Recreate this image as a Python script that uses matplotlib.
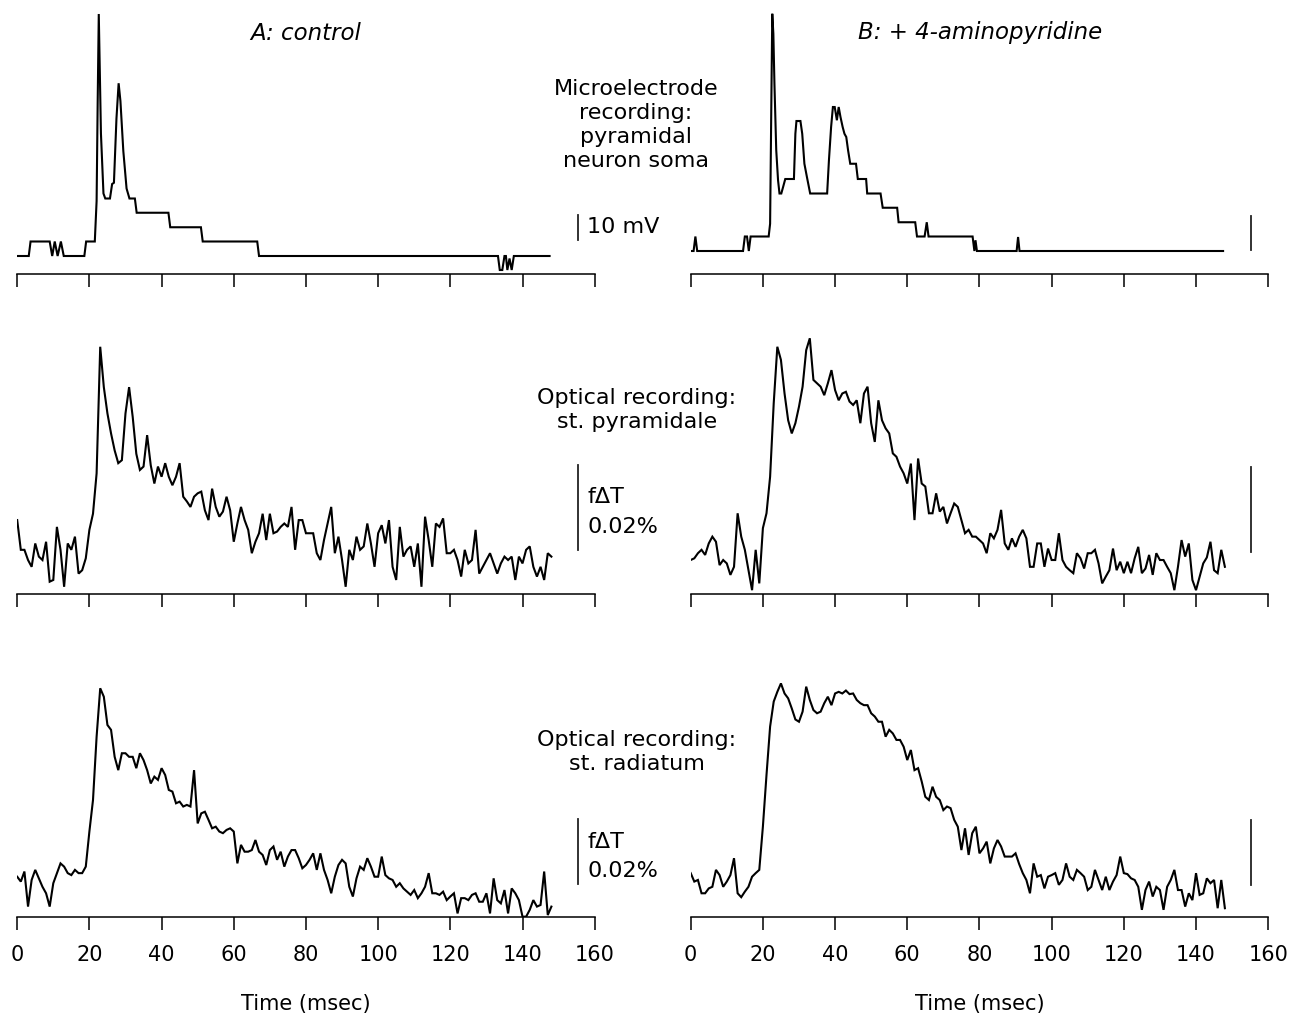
import matplotlib
matplotlib.use("Agg")
import matplotlib.pyplot as plt
import numpy as np

plt.rcParams['font.family'] = ['DejaVu Sans']

# ---- microelectrode recordings (mV above resting level), breakpoints ----
ctrl_me_t = [0, 3.2, 3.7, 9.0, 9.7, 10.4, 11.2, 12.1, 12.9,
             18.6, 19.1, 21.5, 22.0, 22.3, 22.6, 23.2, 23.9, 24.4,
             25.7, 26.3, 26.8, 27.5, 28.1, 28.6, 29.4, 30.3, 31.1,
             32.6, 33.1, 41.9, 42.4, 50.9, 51.4, 66.5, 67.0,
             133.2, 133.7, 134.4, 135.0, 135.4, 135.8, 136.4, 137.0, 137.6, 147.5]
ctrl_me_v = [0, 0, 5.8, 5.8, 0, 5.8, 0, 5.8, 0,
             0, 5.8, 5.8, 22, 62, 96.8, 49, 25, 23.0,
             23.0, 28.8, 29.3, 55, 69.1, 62, 42, 27, 23.0,
             23.0, 17.3, 17.3, 11.5, 11.5, 5.8, 5.8, 0,
             0, -5.6, -5.6, 0, 0, -5.6, -1, -5.6, 0, 0]

ap4_me_t = [0, 0.8, 1.3, 1.8, 14.5, 15.0, 15.6, 16.1, 16.6, 18.0,
            21.6, 22.0, 22.35, 22.6, 22.9, 23.2, 23.7, 24.2, 24.6, 25.1,
            25.6, 26.2, 28.6, 29.0, 29.3, 30.4, 30.9, 31.5, 32.2, 33.1,
            37.8, 38.3, 38.9, 39.4, 39.9, 40.5, 41.0, 41.5, 42.1, 42.6,
            43.1, 43.6, 44.2, 45.8, 46.3, 48.6, 48.9, 52.6, 53.2, 57.2,
            57.6, 62.2, 62.7, 64.8, 65.4, 65.9, 78.1, 78.6, 78.9, 79.3,
            90.3, 90.7, 91.1, 147.5]
ap4_me_v = [0, 0, 5.8, 0, 0, 5.8, 5.8, 0, 5.8, 5.8,
            5.8, 10.9, 60.3, 94.9, 86.9, 66.9, 40.3, 28.3, 23.0, 23.0,
            25.6, 28.8, 28.8, 46.9, 52.0, 52.0, 46.9, 34.9, 29.6, 23.0,
            23.0, 36.3, 49.6, 57.6, 57.6, 52.3, 57.6, 53.6, 49.6, 46.9,
            45.6, 40.3, 34.9, 34.9, 28.8, 28.8, 23.0, 23.0, 17.3, 17.3,
            11.5, 11.5, 5.8, 5.8, 11.5, 5.8, 5.8, 0, 4.3, 0,
            0, 5.6, 0, 0]

# ---- optical recordings, fractional transmittance change (units of 0.001 %) ----
sample_ms = 1.0

ctrl_pyr = [9.4, 2.4, 2.4, 0, -1.6, 3.9, 0.8, 0, 4.3, -5.1,
            -4.7, 7.8, 2.4, -6.3, 3.9, 2.4, 5.5, -3.2, -2.4, 0.4,
            7.1, 10.9, 20.4, 50.2, 40.7, 34.5, 29.8, 25.8, 22.8, 23.5,
            34.5, 40.7, 33.7, 25.0, 21.2, 22.0, 29.4, 22.3, 18.0, 22.0,
            19.6, 22.8, 19.6, 17.6, 19.6, 22.8, 14.9, 13.8, 12.5, 14.9,
            15.7, 16.1, 11.7, 9.4, 16.8, 12.5, 10.2, 11.4, 14.9, 11.7,
            4.3, 8.6, 12.5, 9.4, 7.1, 1.6, 4.3, 6.3, 10.9, 4.7,
            10.9, 6.3, 6.7, 7.8, 8.6, 7.8, 12.5, 2.4, 9.4, 9.4,
            6.3, 6.3, 6.3, 1.6, 0, 4.7, 8.6, 12.5, 1.6, 5.5,
            0, -6.3, 2.4, 0, 5.5, 2.4, 3.2, 8.6, 3.9, -1.6,
            6.3, 8.2, 3.9, 9.4, -1.6, -4.7, 7.8, 0.8, 2.4, 3.2,
            -1.6, 3.9, -6.3, 10.2, 4.7, -1.6, 8.6, 7.8, 9.8, 1.6,
            1.6, 2.4, 0, -3.9, 2.4, -0.8, 0, 7.1, -3.2, -1.6,
            0, 1.6, -0.8, -3.2, -0.8, 0.8, 0, 0.8, -4.7, 0.8,
            -0.8, 2.4, 3.2, -1.6, -3.9, -1.6, -4.7, 1.6, 0.8]

ap4_pyr = [0, 0.4, 1.6, 2.4, 1.2, 3.9, 5.5, 4.3, -1.2, 0,
           -0.8, -3.5, -1.6, 11.0, 5.5, 2.4, -2.4, -7.1, 2.4, -5.5,
           7.5, 11.0, 19.6, 36.9, 50.2, 47.1, 39.2, 32.9, 29.8, 32.2,
           36.1, 40.8, 49.4, 52.2, 42.4, 41.6, 40.8, 38.8, 41.6, 44.7,
           40.0, 37.6, 39.2, 39.6, 37.3, 36.5, 37.6, 32.2, 39.2, 40.8,
           32.2, 27.8, 37.6, 32.9, 31.0, 29.8, 25.1, 24.3, 22.0, 20.4,
           18.0, 22.7, 9.4, 23.9, 18.0, 17.3, 11.0, 11.0, 15.7, 11.4,
           12.5, 8.6, 11.0, 13.3, 12.5, 9.4, 6.3, 7.1, 5.5, 5.5,
           4.7, 3.9, 1.6, 6.3, 5.1, 7.1, 11.8, 3.9, 2.4, 5.1,
           3.1, 5.5, 7.1, 5.1, -1.6, -1.6, 3.9, 3.9, -1.6, 2.7,
           0, 0, 6.3, 0, -1.6, -2.4, -3.1, 1.6, 0.4, -2.0,
           1.6, 1.6, 2.4, -0.8, -5.5, -3.9, -2.4, 2.7, -2.4, -0.4,
           -3.1, -0.4, -3.1, 0.4, 3.1, -3.1, -2.0, 1.2, -3.5, 1.6,
           0, 0, -1.6, -3.1, -7.1, -1.6, 4.7, 0.8, 3.9, -4.7,
           -7.1, -3.9, -0.8, 0.6, 4.3, -2.4, -3.1, 2.4, -1.6]

ctrl_rad = [1.0, -0.5, 2.6, -8.2, 0, 3.1, 0.5, -2.1, -4.1, -8.2,
            -1.0, 2.1, 5.1, 4.1, 2.1, 1.5, 3.1, 2.1, 2.1, 4.1,
            14.9, 24.6, 44.1, 59.0, 56.4, 47.7, 46.2, 37.9, 33.8, 39.0,
            39.0, 37.9, 37.9, 34.4, 39.0, 36.9, 33.8, 29.7, 31.8, 30.8,
            34.4, 32.3, 27.7, 27.2, 23.6, 24.1, 22.6, 23.1, 22.6, 33.8,
            17.4, 20.5, 21.0, 18.5, 15.9, 16.4, 14.9, 14.4, 15.4, 15.9,
            14.9, 5.1, 10.8, 8.7, 8.7, 9.2, 12.3, 8.7, 7.7, 4.6,
            9.2, 10.3, 6.2, 8.7, 4.1, 7.2, 9.2, 9.2, 6.7, 3.6,
            4.6, 6.2, 8.2, 3.1, 8.2, 3.1, 0, -4.1, 1.0, 4.6,
            6.2, 5.1, -2.1, -5.1, 0.5, 4.1, 3.1, 6.7, 4.1, 1.0,
            1.0, 7.2, 1.5, 0.5, 0, -2.1, -1.0, -2.6, -3.6, -4.6,
            -3.1, -5.6, -4.1, -2.1, 2.1, -4.1, -4.1, -4.6, -3.6, -6.2,
            -5.1, -4.1, -10.3, -5.6, -5.6, -6.2, -4.6, -4.1, -6.7, -6.7,
            -4.1, -10.3, 0.5, -6.2, -7.2, -3.1, -10.3, -2.6, -4.1, -6.2,
            -11.3, -11.3, -9.2, -6.2, -8.2, -7.7, 2.6, -10.8, -8.2]

ap4_rad = [2.1, -0.5, 0, -4.1, -4.1, -2.6, -2.1, 3.1, 1.5, -2.1,
           -0.5, 1.5, 6.7, -4.1, -5.3, -3.6, -2.1, 1.0, 2.1, 3.1,
           16.4, 32.3, 47.2, 54.9, 57.9, 60.5, 57.4, 55.9, 52.8, 49.4,
           48.7, 51.8, 59.5, 55.4, 52.3, 51.3, 51.8, 54.4, 56.4, 53.8,
           57.4, 57.9, 57.4, 58.3, 57.2, 57.4, 55.4, 54.4, 53.8, 53.8,
           51.3, 50.3, 48.7, 48.7, 44.1, 46.2, 45.1, 43.1, 43.1, 41.0,
           36.9, 40.0, 33.8, 34.4, 30.3, 25.6, 24.6, 28.7, 25.6, 24.6,
           21.5, 22.6, 22.1, 18.5, 16.4, 9.2, 15.9, 7.7, 14.4, 16.4,
           8.2, 9.7, 11.8, 5.1, 9.7, 12.3, 10.3, 7.2, 7.2, 7.2,
           8.2, 4.9, 2.1, 0, -4.1, 5.1, 1.0, 1.5, -2.6, 1.0,
           1.5, 2.1, -1.5, 0, 5.1, 1.0, 0, 3.1, 2.1, 1.0,
           -3.1, -2.1, 3.1, 0, -3.1, 1.0, -3.1, -0.5, 1.5, 7.2,
           2.1, 1.8, 0.5, 0, -2.1, -9.2, -3.1, -0.5, -5.1, -2.1,
           -3.1, -9.2, -2.1, 0, 3.1, -3.1, -3.1, -8.2, -4.1, -6.2,
           2.1, -4.6, -4.1, 0.5, -1.0, 0, -8.7, 0, -8.7]

time_ticks = [0, 20, 40, 60, 80, 100, 120, 140, 160]

W, H = 1292, 1017
fig = plt.figure(figsize=(W / 100, H / 100), dpi=100)


def box(x0, top, bottom, width=577.5):
    # pixel box -> figure fraction
    return [x0 / W, 1 - bottom / H, width / W, (bottom - top) / H]


def style(ax, ylim, labels=False):
    ax.set_xlim(0, 160)
    ax.set_ylim(*ylim)
    for s in ['left', 'right', 'top']:
        ax.spines[s].set_visible(False)
    ax.spines['bottom'].set_linewidth(1.1)
    ax.set_yticks([])
    ax.set_xticks(time_ticks)
    ax.tick_params(axis='x', direction='out', length=9, width=1.1,
                   labelsize=15, pad=11, labelbottom=labels)
    ax.patch.set_visible(False)
    if labels:
        ax.set_xlabel('Time (msec)', fontsize=15, labelpad=21)


trace_kw = dict(color='black', lw=1.5, solid_joinstyle='miter')
bar_kw = dict(color='#222222', lw=1.3, clip_on=False)
BAR_X = 155.3

# row 1: microelectrode
ax = fig.add_axes(box(17.2, 8, 274))
style(ax, (-7.2, 99.2))
ax.plot(ctrl_me_t, ctrl_me_v, **trace_kw)
ax.plot([BAR_X, BAR_X], [6.4, 16.4], **bar_kw)
ax.text(158, 11.6, '10 mV', fontsize=16, va='center', ha='left')

ax = fig.add_axes(box(690.7, 8, 274))
style(ax, (-9.2, 97.2))
ax.plot(ap4_me_t, ap4_me_v, **trace_kw)
ax.plot([BAR_X, BAR_X], [0.4, 14.0], **bar_kw)

# row 2: optical, st. pyramidale
t_opt = np.arange(len(ctrl_pyr)) * sample_ms
ax = fig.add_axes(box(17.2, 320, 594))
style(ax, (-8.0, 56.5))
ax.plot(t_opt, ctrl_pyr, **trace_kw)
ax.plot([BAR_X, BAR_X], [2.4, 22.4], **bar_kw)
ax.text(158, 14.8, 'f\u0394T', fontsize=16, va='center', ha='left')
ax.text(158, 7.8, '0.02%', fontsize=16, va='center', ha='left')

ax = fig.add_axes(box(690.7, 320, 594))
style(ax, (-8.0, 56.5))
ax.plot(t_opt, ap4_pyr, **trace_kw)
ax.plot([BAR_X, BAR_X], [2.0, 22.0], **bar_kw)

# row 3: optical, st. radiatum
ax = fig.add_axes(box(17.2, 660, 917))
style(ax, (-11.4, 67.7), labels=True)
ax.plot(t_opt, ctrl_rad, **trace_kw)
ax.plot([BAR_X, BAR_X], [-1.2, 18.8], **bar_kw)
ax.text(158, 11.7, 'f\u0394T', fontsize=16, va='center', ha='left')
ax.text(158, 2.8, '0.02%', fontsize=16, va='center', ha='left')

ax = fig.add_axes(box(690.7, 660, 917))
style(ax, (-11.4, 67.7), labels=True)
ax.plot(t_opt, ap4_rad, **trace_kw)
ax.plot([BAR_X, BAR_X], [-1.5, 18.5], **bar_kw)

# headings and row labels
fig.text(306 / W, 1 - 33 / H, 'A: control', style='italic', fontsize=16.5,
         ha='center', va='center')
fig.text(980 / W, 1 - 33 / H, 'B: + 4-aminopyridine', style='italic',
         fontsize=16.5, ha='center', va='center')
fig.text(636 / W, 1 - 125 / H, 'Microelectrode\nrecording:\npyramidal\nneuron soma',
         fontsize=16, ha='center', va='center', multialignment='center',
         linespacing=1.27)
fig.text(637 / W, 1 - 410 / H, 'Optical recording:\nst. pyramidale',
         fontsize=16, ha='center', va='center', multialignment='center',
         linespacing=1.27)
fig.text(637 / W, 1 - 752 / H, 'Optical recording:\nst. radiatum',
         fontsize=16, ha='center', va='center', multialignment='center',
         linespacing=1.27)

fig.savefig('out.png', dpi=100)
